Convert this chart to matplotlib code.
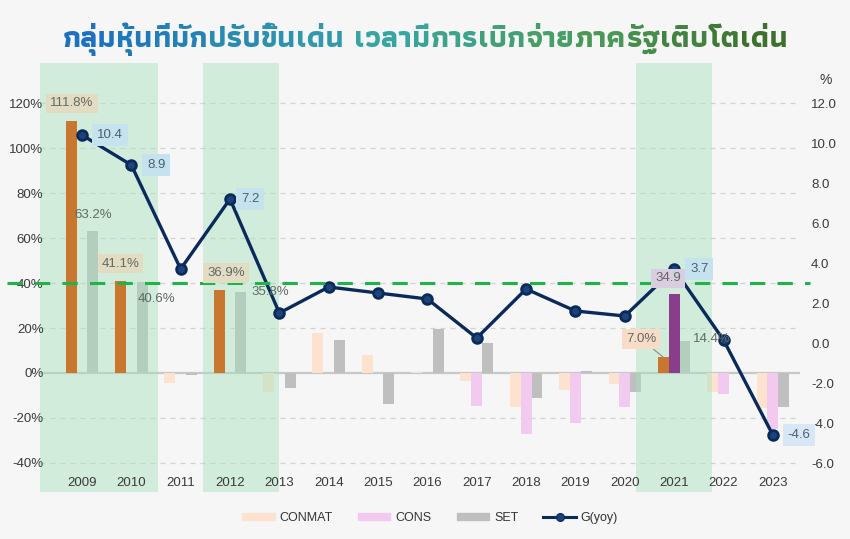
import numpy as np
import matplotlib
matplotlib.use('Agg')
import matplotlib.pyplot as plt
from matplotlib import font_manager as fm
from matplotlib.ft2font import FT2Font
from matplotlib.patches import Patch
from matplotlib.lines import Line2D
from matplotlib.colors import LinearSegmentedColormap
import matplotlib.transforms as mtransforms

# ---------------- data ----------------
years = list(range(2009, 2024))
conmat = [111.8, 41.1, -4.5, 36.9, -8.3, 17.8, 8.0, 0.6, -3.5, -15.0, -7.6, -4.9, 7.0, -8.4, -15.5]
cons = [0, 0, 0, 0, 0, 0, 0, 0, -14.5, -27.0, -22.3, -15.2, 34.9, -9.3, -25.0]
setidx = [63.2, 40.6, -0.8, 35.8, -6.5, 14.7, -14.0, 19.6, 13.3, -11.0, 0.8, -8.5, 14.4, 0.0, -15.0]
gyoy = [10.4, 8.9, 3.7, 7.2, 1.5, 2.8, 2.5, 2.2, 0.25, 2.7, 1.6, 1.35, 3.7, 0.15, -4.6]
highlight_years = [2009, 2010, 2012, 2021]
highlight_spans = [(2008.15, 2010.54), (2011.45, 2013.0), (2020.22, 2021.76)]
threshold = 40  # % on left axis
left_ticks = [-40, -20, 0, 20, 40, 60, 80, 100, 120]
right_ticks = [-6, -4, -2, 0, 2, 4, 6, 8, 10, 12]
series_names = ['CONMAT', 'CONS', 'SET', 'G(yoy)']
title_chunks = ["กลุ่ม", "หุ้น", "ที่", "มัก", "ปรับ", "ขึ้น", "เด่น", "|",
                "เวลา", "มี", "การ", "เบิก", "จ่าย", "ภาค", "รัฐ", "เติบ", "โต", "เด่น"]

# ---------------- style ----------------
BASE = 'Liberation Sans'
plt.rcParams['font.family'] = [BASE, 'DejaVu Sans']
c_conmat_l, c_conmat_d = '#fde3cf', '#c9772f'
c_cons_l, c_cons_d = '#f2c9ef', '#8a3d8a'
c_set = '#bfbfbf'
navy = '#0b2a5c'


def thai_font():
    cands = []
    for f in fm.fontManager.ttflist:
        try:
            ft = FT2Font(f.fname)
            if ft.get_char_index(0x0E01) and ft.get_char_index(0x0E48):
                w = f.weight if isinstance(f.weight, int) else 400
                cands.append((abs(w - 700), f.name))
        except Exception:
            pass
    cands.sort()
    return cands[0][1] if cands else 'DejaVu Sans'


TH = thai_font()

fig = plt.figure(figsize=(8.5, 5.39), dpi=100)
fig.patch.set_facecolor('#f5f6f5')
W, H = 850, 539
ax = fig.add_axes([40 / W, 1 - 492 / H, 760 / W, 429 / H])
ax.patch.set_alpha(0)
ax.set_xlim(2008.15, 2023.55)
ax.set_ylim(-52.9, 137.8)
ax2 = ax.twinx()
ax2.set_ylim(-7.45, 14.0)

for a in (ax, ax2):
    for s in a.spines.values():
        s.set_visible(False)

x = np.array(years, dtype=float)
bw = 0.22
for i, yr in enumerate(years):
    hl = yr in highlight_years
    ax.bar(x[i] - bw, conmat[i], bw, color=c_conmat_d if hl else c_conmat_l,
           zorder=2.2 if hl else 0.9)
    ax.bar(x[i], cons[i], bw, color=c_cons_d if hl else c_cons_l,
           zorder=2.2 if hl else 0.9)
    ax.bar(x[i] + bw, setidx[i], bw, color=c_set, zorder=0.9)

for s0, s1 in highlight_spans:
    ax.axvspan(s0, s1, color='#a6e1bc', alpha=0.45, lw=0, zorder=1.2)

ax.set_yticks(left_ticks)
ax.set_yticklabels([f'{v}%' for v in left_ticks])
for t in left_ticks:
    if t != 0:
        ax.axhline(t, ls=(0, (4, 4)), color='#d3d3d3', lw=0.9, zorder=0.5)
ax.axhline(0, color='#c8c8c8', lw=1.6, zorder=0.8)
ax.set_xticks(years)
ax.set_xticklabels([str(y) for y in years])
ax.tick_params(axis='x', length=0, pad=-11, labelsize=9.5, labelcolor='#3a3a3a')
ax.tick_params(axis='y', length=0, pad=-2.5, labelsize=9.5, labelcolor='#3a3a3a')

ax2.set_yticks(right_ticks)
ax2.set_yticklabels([f'{v:.1f}' for v in right_ticks])
ax2.tick_params(axis='y', length=0, pad=8, labelsize=9.5, labelcolor='#3a3a3a')

# threshold dashed line
blend = mtransforms.blended_transform_factory(ax.transAxes, ax.transData)
ax2.plot([-0.043, 1.013], [threshold, threshold], transform=blend, clip_on=False,
         color='#1fb34a', lw=2.2, ls=(0, (5, 4)), zorder=6)

ax2.plot(x, gyoy, color=navy, lw=2.4, marker='o', ms=7, mfc='#1d4478', mec=navy,
         mew=2, zorder=4)

# bar labels
series_vals = {'conmat': conmat, 'cons': cons, 'set': setidx}
series_off = {'conmat': -bw, 'cons': 0.0, 'set': bw}
bar_labels = [
    ('conmat', 2009, 1, 18, '#e2ddc2', '{:.1f}%'),
    ('set', 2009, 0, 16, None, '{:.1f}%'),
    ('conmat', 2010, 0, 17, '#e2ddc2', '{:.1f}%'),
    ('set', 2010, 14, -17, None, '{:.1f}%'),
    ('conmat', 2012, 7, 17, '#e2ddc2', '{:.1f}%'),
    ('set', 2012, 29, 0, None, '{:.1f}%'),
    ('conmat', 2021, -22, 18, '#f8dcc8', '{:.1f}%'),
    ('cons', 2021, -6, 16, '#d9cde0', '{:.1f}'),
    ('set', 2021, 27, 2, None, '{:.1f}%'),
]
for key, yr, dx, dy, fc, fmt in bar_labels:
    i = years.index(yr)
    v = series_vals[key][i]
    kw = {}
    if fc:
        kw['bbox'] = dict(boxstyle='square,pad=0.3', fc=fc, ec='none')
    if key == 'conmat' and yr == 2021:
        kw['arrowprops'] = dict(arrowstyle='-', color='#8a8a8a', lw=0.8,
                                shrinkA=0, shrinkB=0)
    ax2.annotate(fmt.format(v), xy=(x[i] + series_off[key], v), xycoords=ax.transData,
                 xytext=(dx, dy), textcoords='offset pixels', ha='center', va='center',
                 fontsize=9.5, color='#5f6b63', zorder=7, **kw)

line_labels = [(2009, 28, '#c5e3ee'), (2010, 25, '#c5e3ee'), (2012, 20, '#c5e3ee'),
               (2021, 25, '#c5e3ee'), (2023, 26, '#d8e7f6')]
for yr, dx, fc in line_labels:
    i = years.index(yr)
    ax2.annotate(f'{gyoy[i]:.1f}', xy=(x[i], gyoy[i]), xytext=(dx, 0),
                 textcoords='offset pixels', ha='center', va='center', fontsize=9.5,
                 color='#4d5f6c', zorder=7,
                 bbox=dict(boxstyle='square,pad=0.35', fc=fc, ec='none'))

fig.text(826 / W, 1 - 80 / H, '%', ha='center', va='center', fontsize=10, color='#3a3a3a')

handles = [Patch(color=c_conmat_l), Patch(color=c_cons_l), Patch(color=c_set),
           Line2D([0], [0], color=navy, lw=2.2, marker='o', ms=5.5, mfc='#1d4478', mec=navy)]
fig.legend(handles, series_names, loc='center', bbox_to_anchor=(0.506, 1 - 518 / H),
           ncol=4, frameon=False, fontsize=9, handlelength=2.6, handleheight=0.55,
           columnspacing=2.0, handletextpad=0.4, labelcolor='#333333')

# ---------------- gradient title ----------------
cmap = LinearSegmentedColormap.from_list('t', [(0, '#1a6cc4'), (0.45, '#36a6a4'),
                                              (0.72, '#4b9c5a'), (1.0, '#3a6a26')])
fig.canvas.draw()
r = fig.canvas.get_renderer()


def measure(fs):
    ws = []
    for c in title_chunks:
        if c == '|':
            ws.append(fs * 0.35 * 100 / 72)
            continue
        t = fig.text(0, 0, c, fontsize=fs, family=[TH, 'DejaVu Sans'], weight='bold')
        ws.append(t.get_window_extent(r).width)
        t.remove()
    return ws


fs0 = 24
ws = measure(fs0)
target = 726
fs = fs0 * target / sum(ws)
ws = measure(fs)
tot = sum(ws)
x0 = (W - tot) / 2
cx = x0
for c, w in zip(title_chunks, ws):
    if c != '|':
        col = cmap((cx + w / 2 - x0) / tot)
        fig.text(cx / W, 1 - 47 / H, c, fontsize=fs, family=[TH, 'DejaVu Sans'],
                 weight='bold', color=col, ha='left', va='baseline')
    cx += w

fig.savefig('out.png', dpi=100, facecolor=fig.get_facecolor())
